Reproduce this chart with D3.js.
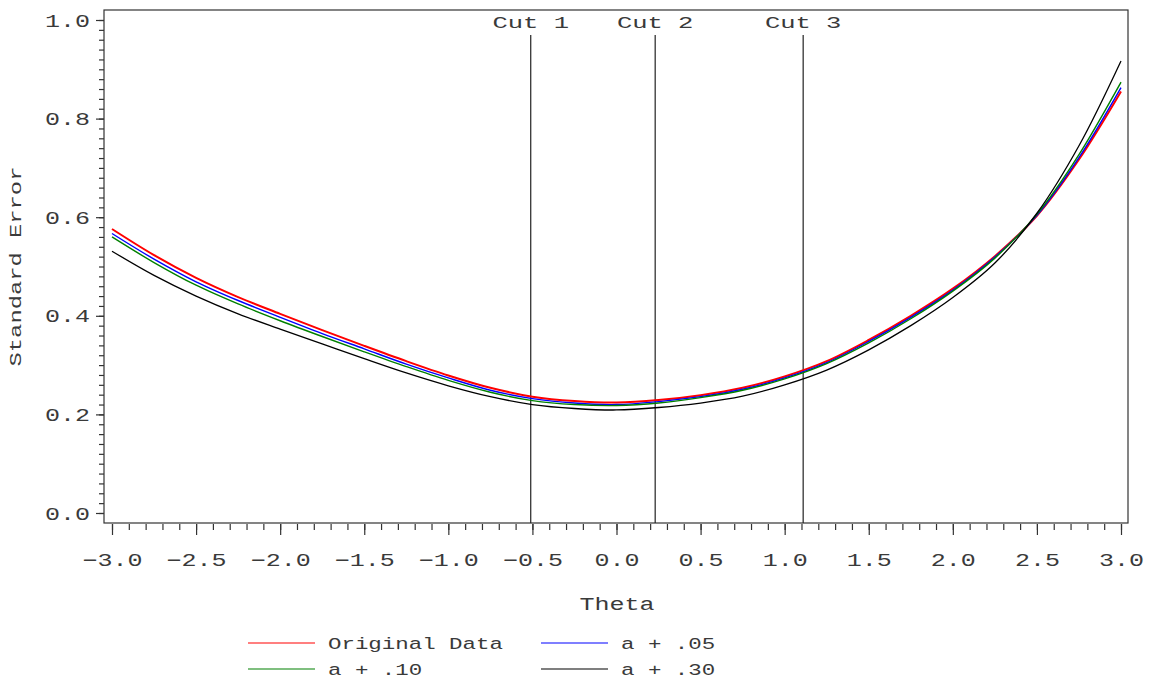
<!DOCTYPE html>
<html>
<head>
<meta charset="utf-8">
<script src="https://cdn.jsdelivr.net/npm/d3@7"></script>
<style>
  body { margin: 0; background: #fff; }
  text { font-family: "Liberation Mono", monospace; fill: #3a3a3a; }
</style>
</head>
<body>
<svg id="chart" width="1150" height="679"></svg>
<script>
// Standard error curves by theta, one array per series
const theta = [-3.0, -2.75, -2.5, -2.25, -2.0, -1.75, -1.5, -1.25, -1.0, -0.75, -0.5, -0.25, 0.0,
  0.25, 0.5, 0.75, 1.0, 1.25, 1.5, 1.75, 2.0, 2.25, 2.5, 2.75, 3.0];
const seOriginal = [0.576, 0.523, 0.477, 0.438, 0.404, 0.371, 0.339, 0.308, 0.279, 0.254, 0.236, 0.227, 0.224,
  0.229, 0.239, 0.254, 0.277, 0.308, 0.351, 0.400, 0.455, 0.521, 0.603, 0.717, 0.855];
const seA05 = [0.567, 0.515, 0.469, 0.431, 0.397, 0.364, 0.333, 0.302, 0.274, 0.249, 0.232, 0.223, 0.220,
  0.226, 0.236, 0.251, 0.274, 0.305, 0.348, 0.397, 0.452, 0.519, 0.604, 0.721, 0.863];
const seA10 = [0.560, 0.508, 0.462, 0.424, 0.390, 0.358, 0.327, 0.297, 0.269, 0.245, 0.228, 0.220, 0.218,
  0.223, 0.234, 0.249, 0.272, 0.303, 0.345, 0.394, 0.450, 0.517, 0.606, 0.727, 0.874];
const seA30 = [0.531, 0.482, 0.440, 0.404, 0.373, 0.343, 0.313, 0.284, 0.258, 0.236, 0.220, 0.212, 0.209,
  0.214, 0.223, 0.237, 0.260, 0.290, 0.331, 0.380, 0.437, 0.507, 0.608, 0.745, 0.917];

const cutValues = [-0.51, 0.23, 1.11];
const cutLabels = ["Cut 1", "Cut 2", "Cut 3"];

const xMajorTicks = [-3.0, -2.5, -2.0, -1.5, -1.0, -0.5, 0.0, 0.5, 1.0, 1.5, 2.0, 2.5, 3.0];
const yMajorTicks = [0.0, 0.2, 0.4, 0.6, 0.8, 1.0];

const seriesNames = ["Original Data", "a + .05", "a + .10", "a + .30"];
const seriesColors = ["#ff0000", "#0000ff", "#008000", "#000000"];
const seriesWidths = [2, 1.4, 1.4, 1.3];
const seriesValues = [seOriginal, seA05, seA10, seA30];

const svg = d3.select("#chart");
const frame = { left: 104, top: 10, right: 1128, bottom: 523 };

const x = d3.scaleLinear().domain([-3, 3]).range([112, 1121]);
const y = d3.scaleLinear().domain([0, 1]).range([513, 20]);

const xMinor = d3.range(-30, 31).map((d) => d / 10);
const yMinor = d3.range(0, 51).map((d) => d / 50);

// stretched mono text, like the plotting font
function stretch(sel, sx) {
  return sel.attr("transform", function () {
    const t = d3.select(this).attr("data-t") || "";
    return `${t} scale(${sx},1)`;
  });
}

// frame
svg.append("rect")
  .attr("x", frame.left).attr("y", frame.top)
  .attr("width", frame.right - frame.left).attr("height", frame.bottom - frame.top)
  .attr("fill", "none").attr("stroke", "#333").attr("stroke-width", 1.2);

// x axis
const gxMinor = svg.append("g").attr("transform", `translate(0,${frame.bottom + 1})`)
  .call(d3.axisBottom(x).tickValues(xMinor).tickSize(6).tickFormat(""));
const gx = svg.append("g").attr("transform", `translate(0,${frame.bottom + 1})`)
  .call(d3.axisBottom(x).tickValues(xMajorTicks).tickSize(11).tickFormat(d3.format(".1f")));
[gxMinor, gx].forEach((g) => {
  g.select(".domain").remove();
  g.selectAll(".tick line").attr("stroke", "#333").attr("stroke-width", 1.2);
});
gx.selectAll(".tick text")
  .attr("y", null).attr("dy", null)
  .attr("font-size", 18).attr("fill", "#3a3a3a")
  .attr("data-t", "translate(0,42)")
  .call(stretch, 1.39);

// y axis
const gyMinor = svg.append("g").attr("transform", `translate(${frame.left},0)`)
  .call(d3.axisLeft(y).tickValues(yMinor).tickSize(5).tickFormat(""));
const gy = svg.append("g").attr("transform", `translate(${frame.left},0)`)
  .call(d3.axisLeft(y).tickValues(yMajorTicks).tickSize(8).tickFormat(d3.format(".1f")));
[gyMinor, gy].forEach((g) => {
  g.select(".domain").remove();
  g.selectAll(".tick line").attr("stroke", "#333").attr("stroke-width", 1.2);
});
gy.selectAll(".tick text")
  .attr("x", null).attr("dy", null)
  .attr("font-size", 18).attr("fill", "#3a3a3a").attr("text-anchor", "end")
  .attr("data-t", "translate(-14,6)")
  .call(stretch, 1.39);

// axis titles
svg.append("text")
  .attr("font-size", 18).attr("text-anchor", "middle")
  .attr("data-t", `translate(617,610)`)
  .text("Theta")
  .call(stretch, 1.39);
svg.append("text")
  .attr("font-size", 17).attr("text-anchor", "middle")
  .attr("data-t", `translate(21,${(y(0) + y(1)) / 2}) rotate(-90)`)
  .text("Standard Error")
  .call(stretch, 1.4);

// cut lines
const cuts = svg.append("g");
cuts.selectAll("line").data(cutValues).enter().append("line")
  .attr("x1", (d) => x(d)).attr("x2", (d) => x(d))
  .attr("y1", 35).attr("y2", frame.bottom)
  .attr("stroke", "#222").attr("stroke-width", 1.2);
cuts.selectAll("text").data(cutValues).enter().append("text")
  .attr("font-size", 17).attr("text-anchor", "middle")
  .attr("data-t", (d) => `translate(${x(d)},28)`)
  .text((d, i) => cutLabels[i])
  .call(stretch, 1.5);

// curves
const line = d3.line()
  .x((d, i) => x(theta[i]))
  .y((d) => y(d))
  .curve(d3.curveCatmullRom);

svg.append("g").selectAll("path").data(seriesValues).enter().append("path")
  .attr("d", line)
  .attr("fill", "none")
  .attr("stroke", (d, i) => seriesColors[i])
  .attr("stroke-width", (d, i) => seriesWidths[i]);

// legend
const legendPos = [[248, 643], [541, 643], [248, 669], [541, 669]];
const legend = svg.append("g").selectAll("g").data(seriesNames).enter().append("g")
  .attr("transform", (d, i) => `translate(${legendPos[i][0]},${legendPos[i][1]})`);
legend.append("line")
  .attr("x1", 0).attr("x2", 67).attr("y1", 0).attr("y2", 0)
  .attr("stroke", (d, i) => seriesColors[i]).attr("stroke-width", 1.2);
legend.append("text")
  .attr("font-size", 17)
  .attr("data-t", "translate(80,6)")
  .text((d) => d)
  .call(stretch, 1.32);
</script>
</body>
</html>
